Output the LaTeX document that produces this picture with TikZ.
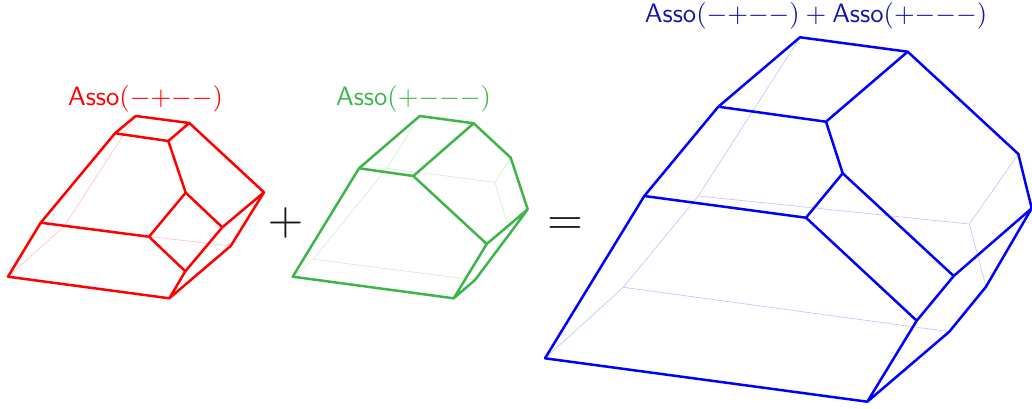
\documentclass[tikz,border=0pt]{standalone}
\definecolor{ared}{HTML}{FF0000}
\definecolor{agreen}{HTML}{3DB54A}
\definecolor{ablue}{HTML}{0000FF}
\definecolor{atext}{HTML}{1414A8}
\newcommand{\asso}[1]{\mathsf{Asso}(#1)}
\newcommand{\mn}{{-}}
\newcommand{\pl}{{+}}
\tikzset{
  front/.style={line width=2.5pt,line join=round,line cap=round},
  back/.style={line width=0.6pt,opacity=0.25},
  lab/.style={inner sep=0pt,scale=2.66,transform shape},
  sym/.style={inner sep=0pt,text=black!90,scale=4.6,transform shape}
}
\begin{document}
\begin{tikzpicture}[x=1pt,y=-1pt]
\useasboundingbox (0,0) rectangle (1032,409);
% --- red
\coordinate (ra) at (8,276.7);
\coordinate (rb) at (169.3,298.3);
\coordinate (rc) at (40.7,222.7);
\coordinate (rd) at (149,236.7);
\coordinate (re) at (185.3,271.3);
\coordinate (rf) at (222.3,227.3);
\coordinate (rg) at (264,192.3);
\coordinate (rh) at (230.7,246);
\coordinate (ri) at (185.7,192.7);
\coordinate (rj) at (168.3,141);
\coordinate (rk) at (115,133.3);
\coordinate (rl) at (135.7,116);
\coordinate (rm) at (189.3,123);
\coordinate (rp) at (64,226.5);
\draw[back,ared] (ra)--(rp)--(rl) (rp)--(rh);
\draw[front,ared] (ra)--(rb) (ra)--(rc)--(rd)--(re)--(rf)--(rg)--(rm)--(rl)--(rk)--(rc)
  (rk)--(rj)--(rm) (rj)--(ri)--(rf) (ri)--(rd) (re)--(rb)--(rh)--(rg);
\node[lab,text=ared] (rlab) at (145.5,98.5) {$\asso{\mn\pl\mn\mn}$};
% --- plus
\node[sym] (plus) at (285.5,223) {$+$};
% --- green
\coordinate (ga) at (292.7,276.7);
\coordinate (gb) at (453.7,298.3);
\coordinate (gc) at (359,168.3);
\coordinate (gd) at (413.3,176);
\coordinate (ge) at (486.7,244);
\coordinate (gf) at (527.7,209.3);
\coordinate (gg) at (510.7,157.7);
\coordinate (gm) at (473.7,123.3);
\coordinate (gl) at (419.7,116);
\coordinate (gh) at (510,233.3);
\coordinate (gn) at (475,280);
\coordinate (gp) at (313.3,259.3);
\coordinate (gq) at (386.7,168.3);
\coordinate (gr) at (495,182.3);
\draw[back,agreen] (ga)--(gp)--(gq)--(gl) (gp)--(gn) (gq)--(gr)--(gg) (gr)--(gh);
\draw[front,agreen] (ga)--(gb) (ga)--(gc)--(gl)--(gm)--(gg)--(gf) (gc)--(gd)--(gm)
  (gd)--(ge)--(gf) (ge)--(gb)--(gn)--(gh)--(gf);
\node[lab,text=agreen] (glab) at (413.5,98.5) {$\asso{\pl\mn\mn\mn}$};
% --- equals
\node[sym] (eq) at (565,226) {$=$};
% --- blue
\coordinate (ba) at (545,358.3);
\coordinate (bb) at (867.3,401.7);
\coordinate (bc) at (644.3,196);
\coordinate (bk) at (718.3,106.7);
\coordinate (bl) at (800,37.3);
\coordinate (bm) at (907.7,51.7);
\coordinate (bj) at (826,121.7);
\coordinate (bi) at (842.7,173.3);
\coordinate (bd) at (806,217.7);
\coordinate (be) at (916.7,320.7);
\coordinate (bf) at (953.7,276);
\coordinate (bg) at (1031.7,208.3);
\coordinate (bn) at (1018.3,154);
\coordinate (bh) at (986,286.7);
\coordinate (bo) at (949.3,331.7);
\coordinate (bp) at (623.3,287.3);
\coordinate (bq) at (698.3,196);
\coordinate (br) at (969.3,224);
\draw[back,ablue] (ba)--(bp)--(bq)--(bl) (bp)--(bo) (bq)--(br)--(bn) (br)--(bh);
\draw[front,ablue] (ba)--(bb) (ba)--(bc)--(bk)--(bl)--(bm)--(bn)--(bg)
  (bk)--(bj)--(bm) (bj)--(bi) (bc)--(bd)--(bi)--(bf) (bd)--(be)--(bf)--(bg)
  (be)--(bb)--(bo)--(bh)--(bg);
\node[lab,text=atext] (blab) at (816,15.5) {$\asso{\mn\pl\mn\mn}+\asso{\pl\mn\mn\mn}$};
\end{tikzpicture}
\end{document}
